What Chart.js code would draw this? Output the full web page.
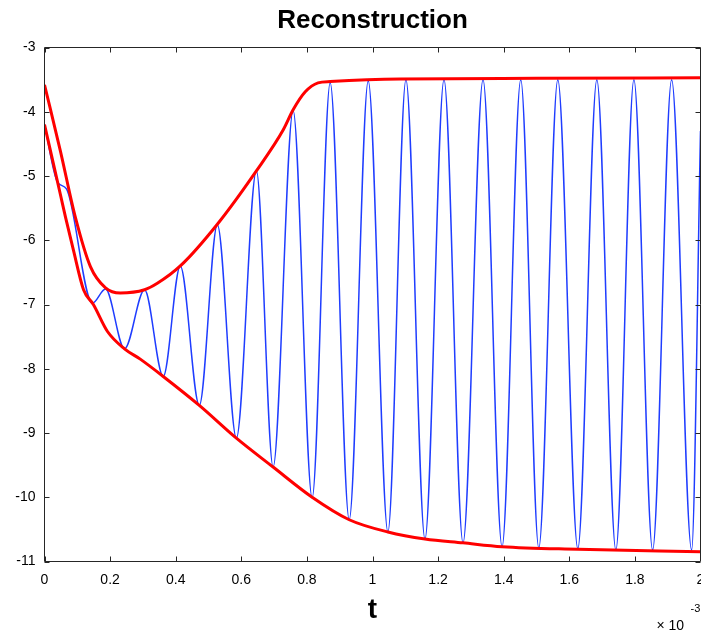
<!DOCTYPE html>
<html>
<head>
<meta charset="utf-8">
<script src="https://cdn.jsdelivr.net/npm/chart.js@4/dist/chart.umd.min.js"></script>
<style>
  html, body { margin: 0; padding: 0; background: #fff; }
  #wrap { width: 701px; height: 631px; }
</style>
</head>
<body>
<div id="wrap"><canvas id="recon" width="701" height="631"></canvas></div>
<script>
// time axis is in units of 1e-3 s
const xTicks = [0, 0.2, 0.4, 0.6, 0.8, 1, 1.2, 1.4, 1.6, 1.8, 2];
const yTicks = [-11, -10, -9, -8, -7, -6, -5, -4, -3];

// blue reconstructed signal: turning points
const signalT = [0, 0.04, 0.067, 0.146, 0.186, 0.244, 0.305, 0.362, 0.414, 0.472, 0.527, 0.585, 0.646, 0.697,
    0.758, 0.816, 0.871, 0.929, 0.987, 1.047, 1.102, 1.16, 1.218, 1.276, 1.337, 1.395, 1.452, 1.507,
    1.565, 1.626, 1.684, 1.742, 1.797, 1.854, 1.912, 1.973, 2.0];
const signalV = [-4.2, -5.1, -5.2, -6.98, -6.76, -7.69, -6.77, -8.12, -6.4, -8.57, -5.76, -9.08, -4.92, -9.53,
    -3.98, -10.01, -3.55, -10.35, -3.52, -10.54, -3.5, -10.65, -3.5, -10.71, -3.5, -10.77, -3.5, -10.79,
    -3.5, -10.8, -3.5, -10.82, -3.5, -10.82, -3.5, -10.82, -4.3];

// red envelopes
const upperT = [0, 0.048, 0.094, 0.14, 0.186, 0.231, 0.305, 0.344, 0.414, 0.527, 0.646, 0.728, 0.758, 0.795,
    0.834, 0.871, 1.084, 1.5, 2.0];
const upperV = [-3.58, -4.6, -5.64, -6.41, -6.74, -6.82, -6.77, -6.67, -6.4, -5.75, -4.92, -4.28, -3.97, -3.69,
    -3.55, -3.53, -3.49, -3.48, -3.47];

const lowerT = [0, 0.049, 0.064, 0.088, 0.119, 0.149, 0.192, 0.244, 0.292, 0.362, 0.472, 0.585, 0.697, 0.816,
    0.929, 1.047, 1.16, 1.276, 1.395, 1.626, 2.0];
const lowerV = [-4.2, -5.3, -5.64, -6.15, -6.77, -7.0, -7.42, -7.69, -7.85, -8.12, -8.57, -9.08, -9.53, -10.0,
    -10.35, -10.54, -10.65, -10.71, -10.77, -10.81, -10.85];

function toPoints(ts, vs) {
    return ts.map((t, i) => ({ x: t, y: vs[i] }));
}

const FONT = '"Liberation Sans", Arial, Helvetica, sans-serif';
const AXIS_COLOR = '#262626';

// MATLAB style frame: box round the plot area with inward ticks on every side,
// title centred over the axes and the x10^-3 exponent
const matlabFrame = {
    id: 'matlabFrame',
    afterDatasetsDraw(chart) {
        const { ctx, chartArea: a, scales } = chart;
        const len = 5;
        ctx.save();
        ctx.strokeStyle = AXIS_COLOR;
        ctx.lineWidth = 1;
        ctx.beginPath();
        ctx.rect(a.left, a.top, a.right - a.left, a.bottom - a.top);
        xTicks.forEach(v => {
            const px = Math.round(scales.x.getPixelForValue(v)) + 0.5;
            ctx.moveTo(px, a.bottom); ctx.lineTo(px, a.bottom - len);
            ctx.moveTo(px, a.top); ctx.lineTo(px, a.top + len);
        });
        yTicks.forEach(v => {
            const py = Math.round(scales.y.getPixelForValue(v)) + 0.5;
            ctx.moveTo(a.left, py); ctx.lineTo(a.left + len, py);
            ctx.moveTo(a.right, py); ctx.lineTo(a.right - len, py);
        });
        ctx.stroke();

        ctx.fillStyle = '#000';
        ctx.textBaseline = 'middle';
        ctx.textAlign = 'center';
        ctx.font = 'bold 26px ' + FONT;
        ctx.fillText('Reconstruction', (a.left + a.right) / 2, a.top - 27);

        ctx.textAlign = 'left';
        ctx.font = '14px ' + FONT;
        ctx.fillText('\u00d7 10', a.right - 44, a.bottom + 65);
        ctx.font = '11px ' + FONT;
        ctx.fillText('-3', a.right - 10, a.bottom + 47);
        ctx.restore();
    }
};

const ctx = document.getElementById('recon').getContext('2d');
new Chart(ctx, {
    type: 'line',
    data: {
        datasets: [
            {
                label: 'upper',
                data: toPoints(upperT, upperV),
                borderColor: '#ff0000',
                borderWidth: 3,
                cubicInterpolationMode: 'monotone',
                pointRadius: 0,
                order: 1
            },
            {
                label: 'lower',
                data: toPoints(lowerT, lowerV),
                borderColor: '#ff0000',
                borderWidth: 3,
                cubicInterpolationMode: 'monotone',
                pointRadius: 0,
                order: 1
            },
            {
                label: 'signal',
                data: toPoints(signalT, signalV),
                borderColor: '#1f3dff',
                borderWidth: 1.5,
                cubicInterpolationMode: 'monotone',
                pointRadius: 0,
                order: 2
            }
        ]
    },
    options: {
        responsive: false,
        animation: false,
        events: [],
        layout: { padding: { top: 47.5, right: 0.5, bottom: 0, left: 0 } },
        plugins: {
            legend: { display: false },
            tooltip: { enabled: false },
            title: { display: false }
        },
        scales: {
            x: {
                type: 'linear',
                min: 0,
                max: 2,
                afterBuildTicks: s => { s.ticks = xTicks.map(v => ({ value: v })); },
                afterFit: s => { s.height = 69.5; s.paddingLeft = 0; s.paddingRight = 0; },
                grid: { display: false, drawTicks: false },
                border: { display: false },
                ticks: {
                    color: '#000',
                    font: { family: FONT, size: 14 },
                    padding: 10,
                    maxRotation: 0,
                    autoSkip: false,
                    callback: v => String(+v.toFixed(1))
                },
                title: {
                    display: true,
                    text: 't',
                    color: '#000',
                    font: { family: FONT, size: 28, weight: 'bold' },
                    padding: { top: 0, bottom: 4 }
                }
            },
            y: {
                type: 'linear',
                min: -11,
                max: -3,
                afterBuildTicks: s => { s.ticks = yTicks.map(v => ({ value: v })); },
                afterFit: s => { s.width = 44.5; s.paddingTop = 0; s.paddingBottom = 0; },
                grid: { display: false, drawTicks: false },
                border: { display: false },
                ticks: {
                    color: '#000',
                    font: { family: FONT, size: 14 },
                    padding: 9,
                    autoSkip: false
                }
            }
        }
    },
    plugins: [matlabFrame]
});
</script>
</body>
</html>
